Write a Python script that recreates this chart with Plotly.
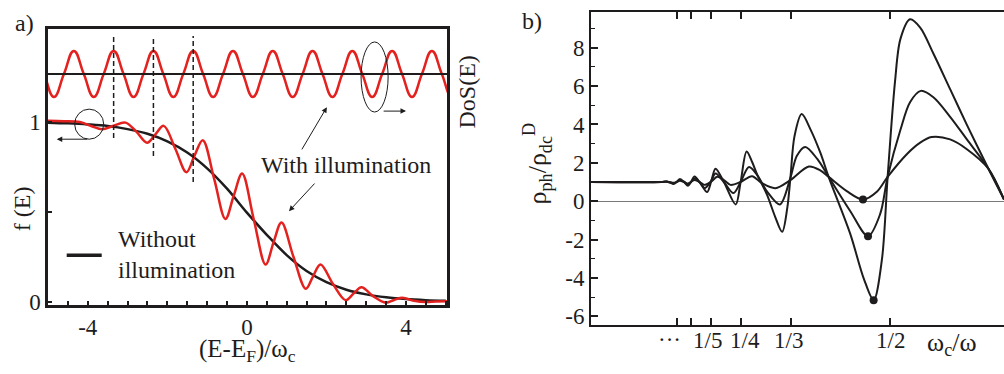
import numpy as np
import plotly.graph_objects as go

# ---------------- panel a: distribution function and density of states ----------------
# energy axis in units of the cyclotron energy, (E - E_F)/w_c
energy_dark = [-5.0, -4.5, -4.0, -3.5, -3.0, -2.5, -2.0, -1.5, -1.0, -0.5,
               0.0, 0.5, 1.0, 1.5, 2.0, 2.5, 3.0, 3.5, 4.0, 4.5, 5.0]
f_dark = [0.995, 0.991, 0.985, 0.976, 0.959, 0.933, 0.891, 0.829, 0.741, 0.628,
          0.495, 0.372, 0.259, 0.171, 0.109, 0.067, 0.041, 0.025, 0.015, 0.009, 0.005]

energy_illum = [-5.0, -4.6, -4.2, -3.9, -3.64, -3.35, -3.05, -2.78, -2.51, -2.30,
                -2.09, -1.80, -1.52, -1.32, -1.11, -0.82, -0.54, -0.33, -0.12, 0.17,
                0.47, 0.67, 0.87, 1.17, 1.48, 1.66, 1.85, 2.16, 2.48, 2.68,
                2.88, 3.18, 3.49, 3.70, 3.91, 4.20, 4.50, 4.75, 5.03]
f_illum = [1.005, 1.003, 0.998, 0.975, 0.958, 0.978, 0.995, 0.945, 0.883, 0.930,
           0.977, 0.850, 0.720, 0.810, 0.897, 0.680, 0.460, 0.590, 0.712, 0.460,
           0.207, 0.330, 0.440, 0.250, 0.072, 0.140, 0.207, 0.100, 0.009, 0.045,
           0.081, 0.030, -0.005, 0.010, 0.022, 0.005, -0.002, 0.002, 0.003]

# oscillating density of states (normalised), sampled every quarter period
energy_dos = [-5.35, -5.10, -4.85, -4.60, -4.35, -4.10, -3.85, -3.60, -3.35, -3.10,
              -2.85, -2.60, -2.35, -2.10, -1.85, -1.60, -1.35, -1.10, -0.85, -0.60,
              -0.35, -0.10, 0.15, 0.40, 0.65, 0.90, 1.15, 1.40, 1.65, 1.90,
              2.15, 2.40, 2.65, 2.90, 3.15, 3.40, 3.65, 3.90, 4.15, 4.40,
              4.65, 4.90, 5.15, 5.40]
dos = [1.5, 1.0, 0.5, 1.0, 1.5, 1.0, 0.5, 1.0, 1.5, 1.0,
       0.5, 1.0, 1.5, 1.0, 0.5, 1.0, 1.5, 1.0, 0.5, 1.0,
       1.5, 1.0, 0.5, 1.0, 1.5, 1.0, 0.5, 1.0, 1.5, 1.0,
       0.5, 1.0, 1.5, 1.0, 0.5, 1.0, 1.5, 1.0, 0.5, 1.0,
       1.5, 1.0, 0.5, 1.0]
dos_mean = 1.0

# DoS maxima marked with dashed guides, and where each guide ends on the f(E) scale
guide_E = [-3.35, -2.35, -1.35]
guide_f_low = [0.91, 0.81, 0.665]
guide_f_top = 1.476

# ---------------- panel b: photoresistivity vs w_c/w ----------------
v_strong = [0.000, 0.118, 0.126, 0.132, 0.138, 0.143, 0.148, 0.155, 0.162, 0.167,
            0.173, 0.183, 0.194, 0.201, 0.208, 0.222, 0.2417, 0.250, 0.260, 0.2694,
            0.278, 0.294, 0.308, 0.3194, 0.328, 0.3333, 0.340, 0.352, 0.367, 0.383,
            0.397, 0.433, 0.456, 0.4722, 0.486, 0.4956, 0.508, 0.517, 0.533, 0.550,
            0.572, 0.600, 0.628, 0.664, 0.690]
rho_strong = [1.00, 1.00, 1.03, 0.97, 0.90, 1.00, 1.15, 1.02, 0.80, 1.00,
              1.28, 0.92, 0.48, 1.05, 1.69, 1.00, -0.17, 1.00, 2.59, 2.03,
              1.36, 0.34, -0.84, -1.60, -0.34, 1.27, 3.39, 4.54, 3.72, 2.54,
              1.27, -1.69, -4.06, -5.16, -3.05, 1.27, 6.26, 8.46, 9.48, 9.05,
              7.70, 5.84, 3.98, 1.69, 0.09]

v_medium = [0.000, 0.118, 0.126, 0.132, 0.138, 0.143, 0.148, 0.155, 0.162, 0.167,
            0.173, 0.183, 0.190, 0.200, 0.208, 0.222, 0.238, 0.250, 0.264, 0.278,
            0.294, 0.3156, 0.333, 0.344, 0.358, 0.378, 0.397, 0.433, 0.4628, 0.483,
            0.4956, 0.517, 0.533, 0.551, 0.572, 0.600, 0.628, 0.664, 0.690]
rho_medium = [1.00, 1.00, 1.02, 0.98, 0.93, 1.00, 1.10, 1.01, 0.86, 1.00,
              1.18, 0.95, 0.68, 1.02, 1.44, 1.00, 0.42, 1.00, 1.78, 1.35,
              0.51, -0.17, 1.20, 2.37, 2.83, 2.20, 1.27, -0.51, -1.83, -0.68,
              1.27, 3.72, 5.16, 5.75, 5.42, 4.40, 3.22, 1.69, 0.09]

v_weak = [0.000, 0.118, 0.126, 0.132, 0.138, 0.143, 0.148, 0.155, 0.162, 0.167,
          0.173, 0.183, 0.189, 0.200, 0.211, 0.222, 0.233, 0.250, 0.269, 0.285,
          0.308, 0.333, 0.364, 0.383, 0.397, 0.428, 0.4544, 0.478, 0.4956, 0.528,
          0.550, 0.569, 0.600, 0.628, 0.664, 0.690]
rho_weak = [1.00, 1.00, 1.01, 0.99, 0.96, 1.00, 1.06, 1.01, 0.92, 1.00,
            1.10, 0.97, 0.85, 1.00, 1.27, 1.10, 0.85, 1.00, 1.30, 0.95,
            0.68, 1.10, 1.81, 1.61, 1.27, 0.51, 0.09, 0.51, 1.27, 2.46,
            3.05, 3.34, 3.22, 2.71, 1.69, 0.09]

ratio_ticks = [1 / 7, 1 / 6, 1 / 5, 1 / 4, 1 / 3, 1 / 2]
ratio_labels = ["1/5", "1/4", "1/3", "1/2"]
rho_ticks = [-6, -4, -2, 0, 2, 4, 6, 8]

# ---------------- styling ----------------
W, H = 1004, 374
RED = "#e3211f"
INK = "#1e1c1c"
FONT = "'Liberation Serif', 'DejaVu Serif', serif"


def paper(px_x, px_y):
    return px_x / W, 1 - px_y / H


fig = go.Figure()

# panel a traces
fig.add_trace(go.Scatter(x=energy_dos, y=dos, xaxis="x", yaxis="y2", mode="lines",
                         line=dict(color=RED, width=2.5, shape="spline", smoothing=1.3),
                         hoverinfo="skip"))
fig.add_trace(go.Scatter(x=energy_dark, y=f_dark, xaxis="x", yaxis="y", mode="lines",
                         line=dict(color=INK, width=2.5, shape="spline"), hoverinfo="skip"))
fig.add_trace(go.Scatter(x=energy_illum, y=f_illum, xaxis="x", yaxis="y", mode="lines",
                         line=dict(color=RED, width=2.5, shape="spline"), hoverinfo="skip"))

# panel b traces
for v, rho in [(v_weak, rho_weak), (v_medium, rho_medium), (v_strong, rho_strong)]:
    fig.add_trace(go.Scatter(x=v, y=rho, xaxis="x2", yaxis="y3", mode="lines",
                             line=dict(color=INK, width=2, shape="spline", smoothing=0.9),
                             hoverinfo="skip"))

# dots on the deep minimum just below w_c/w = 1/2
dot_v, dot_rho = [], []
for v, rho in [(v_weak, rho_weak), (v_medium, rho_medium), (v_strong, rho_strong)]:
    va, ra = np.array(v), np.array(rho)
    sel = np.where((va > 0.4) & (va < 0.5))[0]
    i = sel[np.argmin(ra[sel])]
    dot_v.append(va[i])
    dot_rho.append(ra[i])
fig.add_trace(go.Scatter(x=dot_v, y=dot_rho, xaxis="x2", yaxis="y3", mode="markers",
                         marker=dict(color=INK, size=8), hoverinfo="skip"))

shapes = []
# DoS mean level
shapes.append(dict(type="line", xref="x domain", yref="y2", x0=0, x1=1,
                   y0=dos_mean, y1=dos_mean, line=dict(color=INK, width=2)))
# dashed guides from DoS maxima down to f(E)
for e, lo in zip(guide_E, guide_f_low):
    shapes.append(dict(type="line", xref="x", yref="y", x0=e, x1=e, y0=lo, y1=guide_f_top,
                       line=dict(color=INK, width=1.5, dash="5px,3px")))
# legend key for the dark distribution
shapes.append(dict(type="line", xref="x", yref="y", x0=-4.53, x1=-3.65, y0=0.259, y1=0.259,
                   line=dict(color=INK, width=3.5)))
# ellipses singling out which curve belongs to which scale
shapes.append(dict(type="circle", xref="x", yref="y", x0=-4.33, x1=-3.60, y0=0.903, y1=1.070,
                   line=dict(color=INK, width=1)))
shapes.append(dict(type="circle", xref="x", yref="y", x0=2.87, x1=3.55, y0=1.054, y1=1.443,
                   line=dict(color=INK, width=1)))

annotations = []


def text(px_x, px_y, s, size=24, angle=0, xanchor="center"):
    x, y = paper(px_x, px_y)
    annotations.append(dict(xref="paper", yref="paper", x=x, y=y, text=s, showarrow=False,
                            textangle=angle, xanchor=xanchor, yanchor="middle", align="left",
                            font=dict(family=FONT, size=size, color=INK)))


def arrow(x_head, y_head, x_tail, y_tail):
    annotations.append(dict(xref="x", yref="y", axref="x", ayref="y", x=x_head, y=y_head,
                            ax=x_tail, ay=y_tail, text="", showarrow=True, arrowhead=2,
                            arrowsize=1.1, arrowwidth=1, arrowcolor=INK))


text(24, 24, "a)")
text(532, 22, "b)")
text(22, 215, "f (E)", angle=-90)
text(247, 360, "(E-E<sub>F</sub>)/ω<sub>c</sub>", size=25)
text(467, 95, "DoS(E)", angle=-90)
text(346, 170, "With illumination")
text(116, 262, "Without<br>illumination", xanchor="left")
text(537, 168, "ρ<sub>ph</sub>/ρ<sub>dc</sub><sup>D</sup>", size=26, angle=-90)
text(669, 349, "···", size=23)
text(952, 353, "ω<sub>c</sub>/ω", size=26)

# ratio labels sit a little apart from their ticks where they would crowd
for lab, cx in zip(ratio_labels, [707, 745, 788, 890]):
    text(cx, 350, lab, size=23)

arrow(2.01, 1.081, 1.36, 0.838)
arrow(1.057, 0.503, 1.736, 0.665)
arrow(4.0, 1.059, 3.40, 1.059)
arrow(-4.78, 0.903, -3.975, 0.903)

axis_common = dict(showgrid=False, zeroline=False, showline=True, linecolor=INK,
                   ticks="inside", tickcolor=INK, tickangle=0,
                   tickfont=dict(family=FONT, size=23, color=INK))

a_x_ticks = [round(-5 + 0.5 * k, 1) for k in range(21)]
a_x_text = [{-4.0: "-4", 0.0: "0", 4.0: "4"}.get(t, "") for t in a_x_ticks]

fig.update_layout(
    width=W, height=H,
    margin=dict(l=0, r=0, t=0, b=0),
    paper_bgcolor="white", plot_bgcolor="white",
    showlegend=False,
    font=dict(family=FONT, color=INK),
    xaxis=dict(axis_common, domain=[48 / W, 447 / W], range=[-5.0, 5.03], anchor="y",
               mirror=True, linewidth=2.5, tickvals=a_x_ticks, ticktext=a_x_text,
               ticklen=4, tickwidth=1.5),
    yaxis=dict(axis_common, domain=[(H - 313) / H, (H - 30) / H], range=[-0.016, 1.514],
               anchor="x", mirror=True, linewidth=2.5, tickvals=[0, 0.5, 1],
               ticktext=["0", "", "1"], ticklen=4, tickwidth=1.5),
    yaxis2=dict(overlaying="y", range=[-4.0, 1.97], visible=False, anchor="x"),
    xaxis2=dict(axis_common, domain=[591 / W, 1.0], range=[0, 0.69], anchor="y3",
                mirror="ticks", linewidth=2, tickvals=ratio_ticks, showticklabels=False,
                ticklen=7, tickwidth=1.5),
    yaxis3=dict(axis_common, domain=[(H - 334) / H, (H - 12) / H], range=[-6.46, 9.88],
                anchor="x2", linewidth=2, tickvals=rho_ticks,
                ticktext=[str(t) for t in rho_ticks], ticklen=7, tickwidth=1.5,
                zeroline=True, zerolinecolor="#7a7a7a", zerolinewidth=1,
                minor=dict(tickvals=[-5, -3, -1, 1, 3, 5, 7, 9], ticks="inside",
                           ticklen=4, tickcolor=INK, tickwidth=1.2)),
    shapes=shapes,
    annotations=annotations,
)

fig.write_html("out.html")
